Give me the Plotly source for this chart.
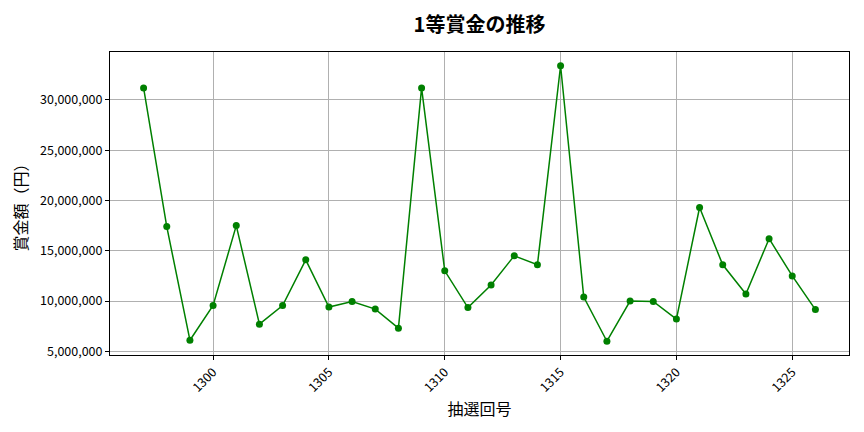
import plotly.graph_objects as go

# 抽選回号と1等賞金
draws = list(range(1297, 1327))
prizes = [
    31200000, 17400000, 6100000, 9550000, 17500000, 7700000, 9550000, 14100000,
    9400000, 9950000, 9200000, 7300000, 31200000, 13000000, 9350000, 11600000,
    14500000, 13600000, 33400000, 10400000, 6000000, 10000000, 9950000, 8200000,
    19300000, 13600000, 10700000, 16200000, 12500000, 9150000,
]

font = "Noto Sans CJK JP"

fig = go.Figure(go.Scatter(
    x=draws, y=prizes,
    mode="lines+markers",
    line=dict(color="green", width=1.5),
    marker=dict(color="green", size=7),
))

fig.update_layout(
    width=856, height=424,
    margin=dict(l=102, r=15, t=44, b=77),
    paper_bgcolor="white", plot_bgcolor="white",
    font=dict(family=font, color="black", size=12.5),
    title=dict(text="1等賞金の推移", xref="paper", x=0.5, xanchor="center",
               y=0.96, yanchor="middle",
               font=dict(size=20, family=font, weight="bold")),
    showlegend=False,
)

fig.update_xaxes(
    range=[1295.55, 1327.45],
    tickvals=[1300, 1305, 1310, 1315, 1320, 1325],
    tickangle=-45,
    ticks="outside", ticklen=4, tickcolor="black",
    showgrid=True, gridcolor="#b0b0b0", gridwidth=0.8,
    showline=True, linecolor="black", linewidth=1, mirror=True,
    zeroline=False,
    title=dict(text="抽選回号", font=dict(size=16), standoff=4),
)
fig.update_yaxes(
    range=[4630000, 34770000],
    tickvals=[5000000, 10000000, 15000000, 20000000, 25000000, 30000000],
    tickformat=",d",
    ticks="outside", ticklen=4, tickcolor="black",
    showgrid=True, gridcolor="#b0b0b0", gridwidth=0.8,
    showline=True, linecolor="black", linewidth=1, mirror=True,
    zeroline=False,
    title=dict(text="賞金額（円）", font=dict(size=16), standoff=8),
)

fig.write_html("out.html")
